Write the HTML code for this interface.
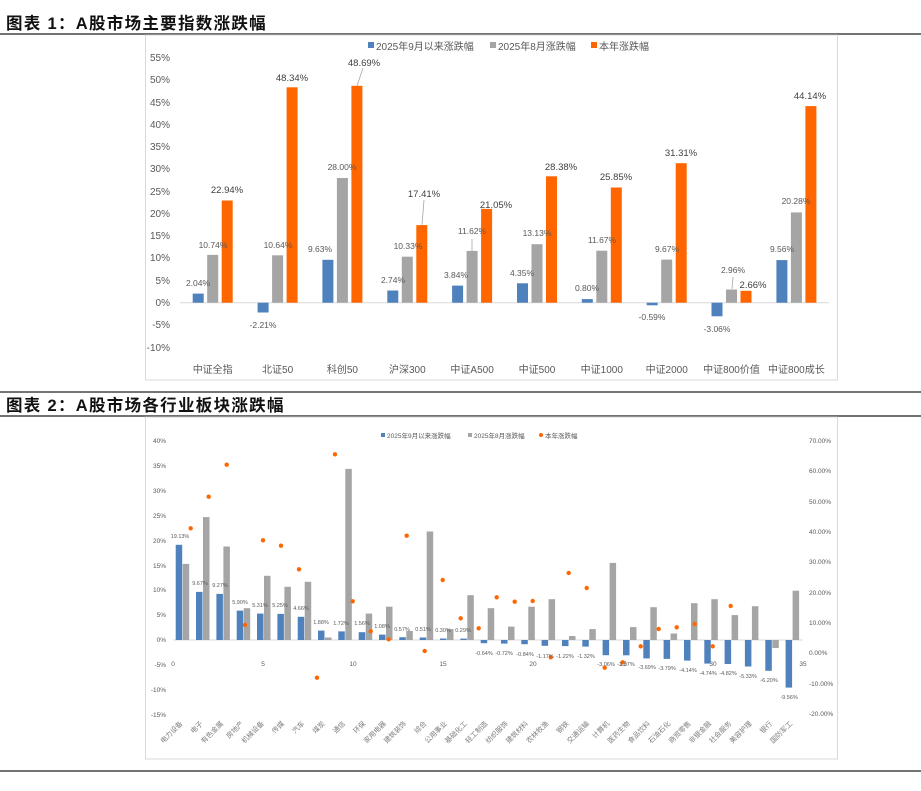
<!DOCTYPE html>
<html><head><meta charset="utf-8"><style>
body{margin:0;background:#fff;width:921px;height:791px;overflow:hidden}
svg{display:block}
text{font-family:"Liberation Sans","Noto Sans CJK SC",sans-serif}
</style></head><body>
<svg width="921" height="791" viewBox="0 0 921 791" xmlns="http://www.w3.org/2000/svg">
<text x="6" y="29" font-size="16.5" font-weight="bold" fill="#111" letter-spacing="1.3">图表 1：A股市场主要指数涨跌幅</text>
<line x1="0" y1="34" x2="921" y2="34" stroke="#444" stroke-width="1.5"/>
<line x1="0" y1="392" x2="921" y2="392" stroke="#222" stroke-width="1.2"/>
<text x="6" y="411" font-size="16.5" font-weight="bold" fill="#111" letter-spacing="1.3">图表 2：A股市场各行业板块涨跌幅</text>
<line x1="0" y1="416" x2="921" y2="416" stroke="#444" stroke-width="1.5"/>
<line x1="0" y1="771" x2="921" y2="771" stroke="#222" stroke-width="1.2"/>

<rect x="145.5" y="35" width="692" height="345" fill="none" stroke="#d9d9d9"/>
<g font-size="10" fill="#595959" text-anchor="end">
<text x="170" y="61">55%</text><text x="170" y="83">50%</text><text x="170" y="106">45%</text><text x="170" y="128">40%</text><text x="170" y="150">35%</text><text x="170" y="172">30%</text><text x="170" y="195">25%</text><text x="170" y="217">20%</text><text x="170" y="239">15%</text><text x="170" y="261">10%</text><text x="170" y="284">5%</text><text x="170" y="306">0%</text><text x="170" y="328">-5%</text><text x="170" y="351">-10%</text>
</g>
<line x1="180" y1="302.7" x2="829" y2="302.7" stroke="#d9d9d9"/>
<rect x="368" y="42" width="6" height="6" fill="#4f81bd"/><text x="376" y="50" font-size="10" fill="#595959">2025年9月以来涨跌幅</text>
<rect x="490" y="42" width="6" height="6" fill="#a5a5a5"/><text x="498" y="50" font-size="10" fill="#595959">2025年8月涨跌幅</text>
<rect x="591" y="42" width="6" height="6" fill="#ff6600"/><text x="599" y="50" font-size="10" fill="#595959">本年涨跌幅</text>
<g fill="#4f81bd">
<rect x="192.7" y="293.6" width="11" height="9.1"/><rect x="257.6" y="302.7" width="11" height="9.8"/><rect x="322.4" y="259.8" width="11" height="42.9"/><rect x="387.3" y="290.5" width="11" height="12.2"/><rect x="452.1" y="285.6" width="11" height="17.1"/><rect x="517" y="283.3" width="11" height="19.4"/><rect x="581.8" y="299.1" width="11" height="3.6"/><rect x="646.7" y="302.7" width="11" height="2.6"/><rect x="711.5" y="302.7" width="11" height="13.6"/><rect x="776.4" y="260.1" width="11" height="42.6"/>
</g>
<g fill="#a5a5a5">
<rect x="207.2" y="254.9" width="11" height="47.8"/><rect x="272.1" y="255.3" width="11" height="47.4"/><rect x="336.9" y="178" width="11" height="124.7"/><rect x="401.8" y="256.7" width="11" height="46"/><rect x="466.6" y="250.9" width="11" height="51.8"/><rect x="531.5" y="244.2" width="11" height="58.5"/><rect x="596.3" y="250.7" width="11" height="52"/><rect x="661.2" y="259.6" width="11" height="43.1"/><rect x="726" y="289.5" width="11" height="13.2"/><rect x="790.9" y="212.4" width="11" height="90.3"/>
</g>
<g fill="#ff6600">
<rect x="221.7" y="200.5" width="11" height="102.2"/><rect x="286.6" y="87.3" width="11" height="215.4"/><rect x="351.4" y="85.8" width="11" height="216.9"/><rect x="416.3" y="225.1" width="11" height="77.6"/><rect x="481.1" y="208.9" width="11" height="93.8"/><rect x="546" y="176.3" width="11" height="126.4"/><rect x="610.8" y="187.5" width="11" height="115.2"/><rect x="675.7" y="163.2" width="11" height="139.5"/><rect x="740.5" y="290.8" width="11" height="11.9"/><rect x="805.4" y="106.1" width="11" height="196.6"/>
</g>
<g stroke="#a5a5a5" stroke-width="0.8">
<line x1="363" y1="68" x2="357" y2="86"/><line x1="424" y1="200" x2="422" y2="225"/><line x1="472" y1="239" x2="472" y2="251"/><line x1="733" y1="277" x2="732" y2="289"/>
</g>
<g font-size="8.5" fill="#595959" text-anchor="middle">
<text x="198" y="286">2.04%</text><text x="213" y="248">10.74%</text><text x="263" y="328">-2.21%</text><text x="278" y="248">10.64%</text><text x="320" y="252">9.63%</text><text x="342" y="170">28.00%</text><text x="393" y="283">2.74%</text><text x="408" y="249">10.33%</text><text x="456" y="278">3.84%</text><text x="472" y="234">11.62%</text><text x="522" y="276">4.35%</text><text x="537" y="236">13.13%</text><text x="587" y="291">0.80%</text><text x="602" y="243">11.67%</text><text x="652" y="320">-0.59%</text><text x="667" y="252">9.67%</text><text x="717" y="332">-3.06%</text><text x="733" y="273">2.96%</text><text x="782" y="252">9.56%</text><text x="796" y="204">20.28%</text>
</g>
<g font-size="9.5" fill="#404040" text-anchor="middle">
<text x="227" y="193">22.94%</text><text x="292" y="81">48.34%</text><text x="364" y="66">48.69%</text><text x="424" y="197">17.41%</text><text x="496" y="208">21.05%</text><text x="561" y="170">28.38%</text><text x="616" y="180">25.85%</text><text x="681" y="156">31.31%</text><text x="753" y="288">2.66%</text><text x="810" y="99">44.14%</text>
</g>
<g font-size="10" fill="#595959" text-anchor="middle">
<text x="212.7" y="373">中证全指</text><text x="277.6" y="373">北证50</text><text x="342.4" y="373">科创50</text><text x="407.3" y="373">沪深300</text><text x="472.1" y="373">中证A500</text><text x="537" y="373">中证500</text><text x="601.8" y="373">中证1000</text><text x="666.7" y="373">中证2000</text><text x="731.5" y="373">中证800价值</text><text x="796.4" y="373">中证800成长</text>
</g>

<rect x="145.5" y="417" width="692" height="342" fill="none" stroke="#d9d9d9"/>
<g font-size="6.5" fill="#595959" text-anchor="end">
<text x="166" y="443">40%</text><text x="166" y="468">35%</text><text x="166" y="493">30%</text><text x="166" y="518">25%</text><text x="166" y="543">20%</text><text x="166" y="568">15%</text><text x="166" y="592">10%</text><text x="166" y="617">5%</text><text x="166" y="642">0%</text><text x="166" y="667">-5%</text><text x="166" y="692">-10%</text><text x="166" y="717">-15%</text>
</g>
<g font-size="6.5" fill="#595959">
<text x="809" y="443">70.00%</text><text x="809" y="473">60.00%</text><text x="809" y="504">50.00%</text><text x="809" y="534">40.00%</text><text x="809" y="564">30.00%</text><text x="809" y="595">20.00%</text><text x="809" y="625">10.00%</text><text x="809" y="655">0.00%</text><text x="809" y="686">-10.00%</text><text x="809" y="716">-20.00%</text>
</g>
<g font-size="6.5" fill="#595959" text-anchor="middle">
<text x="173" y="666">0</text><text x="263" y="666">5</text><text x="353" y="666">10</text><text x="443" y="666">15</text><text x="533" y="666">20</text><text x="623" y="666">25</text><text x="713" y="666">30</text><text x="803" y="666">35</text>
</g>
<line x1="173" y1="640" x2="803" y2="640" stroke="#d9d9d9"/>
<rect x="381" y="433" width="4" height="4" fill="#4f81bd"/><text x="387" y="438" font-size="6.5" fill="#595959">2025年9月以来涨跌幅</text>
<rect x="468" y="433" width="4" height="4" fill="#a5a5a5"/><text x="474" y="438" font-size="6.5" fill="#595959">2025年8月涨跌幅</text>
<circle cx="541" cy="435" r="2" fill="#ff6600"/><text x="545" y="438" font-size="6.5" fill="#595959">本年涨跌幅</text>
<g fill="#4f81bd">
<rect x="175.7" y="544.8" width="6.5" height="95.2"/><rect x="196" y="591.9" width="6.5" height="48.1"/><rect x="216.4" y="593.9" width="6.5" height="46.1"/><rect x="236.7" y="610.6" width="6.5" height="29.4"/><rect x="257" y="613.6" width="6.5" height="26.4"/><rect x="277.4" y="613.9" width="6.5" height="26.1"/><rect x="297.7" y="616.8" width="6.5" height="23.2"/><rect x="318" y="630.6" width="6.5" height="9.4"/><rect x="338.3" y="631.4" width="6.5" height="8.6"/><rect x="358.7" y="632.2" width="6.5" height="7.8"/><rect x="379" y="634.6" width="6.5" height="5.4"/><rect x="399.3" y="637.2" width="6.5" height="2.8"/><rect x="419.7" y="637.5" width="6.5" height="2.5"/><rect x="440" y="638.5" width="6.5" height="1.5"/><rect x="460.3" y="638.6" width="6.5" height="1.4"/>
<rect x="480.7" y="640" width="6.5" height="3.2"/><rect x="501" y="640" width="6.5" height="3.6"/><rect x="521.3" y="640" width="6.5" height="4.2"/><rect x="541.6" y="640" width="6.5" height="5.8"/><rect x="562" y="640" width="6.5" height="6.1"/><rect x="582.3" y="640" width="6.5" height="6.6"/><rect x="602.6" y="640" width="6.5" height="15.2"/><rect x="623" y="640" width="6.5" height="15.3"/><rect x="643.3" y="640" width="6.5" height="18.4"/><rect x="663.6" y="640" width="6.5" height="18.9"/><rect x="684" y="640" width="6.5" height="20.6"/><rect x="704.3" y="640" width="6.5" height="23.6"/><rect x="724.6" y="640" width="6.5" height="24"/><rect x="744.9" y="640" width="6.5" height="26.5"/><rect x="765.3" y="640" width="6.5" height="30.8"/><rect x="785.6" y="640" width="6.5" height="47.6"/>
</g>
<g fill="#a5a5a5">
<rect x="182.7" y="563.9" width="6.5" height="76.1"/><rect x="203" y="517.1" width="6.5" height="122.9"/><rect x="223.4" y="546.5" width="6.5" height="93.5"/><rect x="243.7" y="608.2" width="6.5" height="31.8"/><rect x="264" y="575.8" width="6.5" height="64.2"/><rect x="284.4" y="586.8" width="6.5" height="53.2"/><rect x="304.7" y="581.8" width="6.5" height="58.2"/><rect x="325" y="637.5" width="6.5" height="2.5"/><rect x="345.3" y="468.9" width="6.5" height="171.1"/><rect x="365.7" y="613.6" width="6.5" height="26.4"/><rect x="386" y="606.7" width="6.5" height="33.3"/><rect x="406.3" y="631" width="6.5" height="9"/><rect x="426.7" y="531.5" width="6.5" height="108.5"/><rect x="447" y="629.1" width="6.5" height="10.9"/><rect x="467.3" y="595.2" width="6.5" height="44.8"/><rect x="487.7" y="608.2" width="6.5" height="31.8"/><rect x="508" y="626.6" width="6.5" height="13.4"/><rect x="528.3" y="606.7" width="6.5" height="33.3"/><rect x="548.6" y="599.2" width="6.5" height="40.8"/><rect x="569" y="636" width="6.5" height="4"/><rect x="589.3" y="629.1" width="6.5" height="10.9"/><rect x="609.6" y="562.9" width="6.5" height="77.1"/><rect x="630" y="627.1" width="6.5" height="12.9"/><rect x="650.3" y="607.2" width="6.5" height="32.8"/><rect x="670.6" y="633.5" width="6.5" height="6.5"/><rect x="691" y="603.2" width="6.5" height="36.8"/><rect x="711.3" y="599.2" width="6.5" height="40.8"/><rect x="731.6" y="615.1" width="6.5" height="24.9"/><rect x="751.9" y="606.2" width="6.5" height="33.8"/><rect x="772.3" y="640" width="6.5" height="8"/><rect x="792.6" y="590.7" width="6.5" height="49.3"/>
</g>
<g fill="#ff6600">
<circle cx="190.7" cy="528.3" r="2.2"/><circle cx="208.7" cy="496.7" r="2.2"/><circle cx="226.7" cy="464.7" r="2.2"/><circle cx="245" cy="625" r="2.2"/><circle cx="263" cy="540.3" r="2.2"/><circle cx="281" cy="545.7" r="2.2"/><circle cx="299" cy="569.3" r="2.2"/><circle cx="317" cy="677.7" r="2.2"/><circle cx="335" cy="454.3" r="2.2"/><circle cx="352.7" cy="601.3" r="2.2"/><circle cx="370.7" cy="631.3" r="2.2"/><circle cx="388.7" cy="639.3" r="2.2"/><circle cx="406.7" cy="535.7" r="2.2"/><circle cx="424.7" cy="651" r="2.2"/><circle cx="442.7" cy="580" r="2.2"/><circle cx="460.7" cy="618.3" r="2.2"/><circle cx="478.7" cy="628.3" r="2.2"/><circle cx="496.7" cy="597.3" r="2.2"/><circle cx="514.7" cy="601.7" r="2.2"/><circle cx="532.7" cy="601" r="2.2"/><circle cx="550.7" cy="657.3" r="2.2"/><circle cx="568.7" cy="573" r="2.2"/><circle cx="586.7" cy="588" r="2.2"/><circle cx="604.7" cy="667.7" r="2.2"/><circle cx="622.7" cy="662.3" r="2.2"/><circle cx="640.7" cy="646.3" r="2.2"/><circle cx="658.7" cy="629" r="2.2"/><circle cx="676.7" cy="627.3" r="2.2"/><circle cx="694.7" cy="624" r="2.2"/><circle cx="712.7" cy="646.3" r="2.2"/><circle cx="730.7" cy="606" r="2.2"/>
</g>
<g font-size="5.5" fill="#595959" text-anchor="middle">
<text x="180" y="538">19.13%</text><text x="200" y="585">9.67%</text><text x="220" y="587">9.27%</text><text x="240" y="604">5.90%</text><text x="260" y="607">5.31%</text><text x="280" y="607">5.25%</text><text x="301" y="610">4.66%</text><text x="321" y="624">1.88%</text><text x="341" y="625">1.72%</text><text x="362" y="625">1.56%</text><text x="382" y="628">1.08%</text><text x="402" y="631">0.57%</text><text x="423" y="631">0.51%</text><text x="443" y="632">0.30%</text><text x="463" y="632">0.29%</text>
<text x="484" y="655">-0.64%</text><text x="504" y="655">-0.72%</text><text x="525" y="656">-0.84%</text><text x="545" y="658">-1.17%</text><text x="565" y="658">-1.22%</text><text x="586" y="658">-1.32%</text><text x="606" y="666">-3.06%</text><text x="626" y="666">-3.07%</text><text x="647" y="669">-3.69%</text><text x="667" y="670">-3.79%</text><text x="688" y="672">-4.14%</text><text x="708" y="675">-4.74%</text><text x="728" y="675">-4.82%</text><text x="748" y="678">-5.33%</text><text x="769" y="682">-6.20%</text><text x="789" y="699">-9.56%</text>
</g>
<g font-size="7" fill="#7f7f7f" text-anchor="end">
<text transform="translate(183,724) rotate(-45)">电力设备</text><text transform="translate(203.3,724) rotate(-45)">电子</text><text transform="translate(223.7,724) rotate(-45)">有色金属</text><text transform="translate(244,724) rotate(-45)">房地产</text><text transform="translate(264.3,724) rotate(-45)">机械设备</text><text transform="translate(284.7,724) rotate(-45)">传媒</text><text transform="translate(305,724) rotate(-45)">汽车</text><text transform="translate(325.3,724) rotate(-45)">煤炭</text><text transform="translate(345.6,724) rotate(-45)">通信</text><text transform="translate(366,724) rotate(-45)">环保</text><text transform="translate(386.3,724) rotate(-45)">家用电器</text><text transform="translate(406.6,724) rotate(-45)">建筑装饰</text><text transform="translate(427,724) rotate(-45)">综合</text><text transform="translate(447.3,724) rotate(-45)">公用事业</text><text transform="translate(467.6,724) rotate(-45)">基础化工</text><text transform="translate(488,724) rotate(-45)">轻工制造</text><text transform="translate(508.3,724) rotate(-45)">纺织服饰</text><text transform="translate(528.6,724) rotate(-45)">建筑材料</text><text transform="translate(548.9,724) rotate(-45)">农林牧渔</text><text transform="translate(569.3,724) rotate(-45)">钢铁</text><text transform="translate(589.6,724) rotate(-45)">交通运输</text><text transform="translate(609.9,724) rotate(-45)">计算机</text><text transform="translate(630.3,724) rotate(-45)">医药生物</text><text transform="translate(650.6,724) rotate(-45)">食品饮料</text><text transform="translate(670.9,724) rotate(-45)">石油石化</text><text transform="translate(691.3,724) rotate(-45)">商贸零售</text><text transform="translate(711.6,724) rotate(-45)">非银金融</text><text transform="translate(731.9,724) rotate(-45)">社会服务</text><text transform="translate(752.2,724) rotate(-45)">美容护理</text><text transform="translate(772.6,724) rotate(-45)">银行</text><text transform="translate(792.9,724) rotate(-45)">国防军工</text>
</g>
</svg>
</body></html>
